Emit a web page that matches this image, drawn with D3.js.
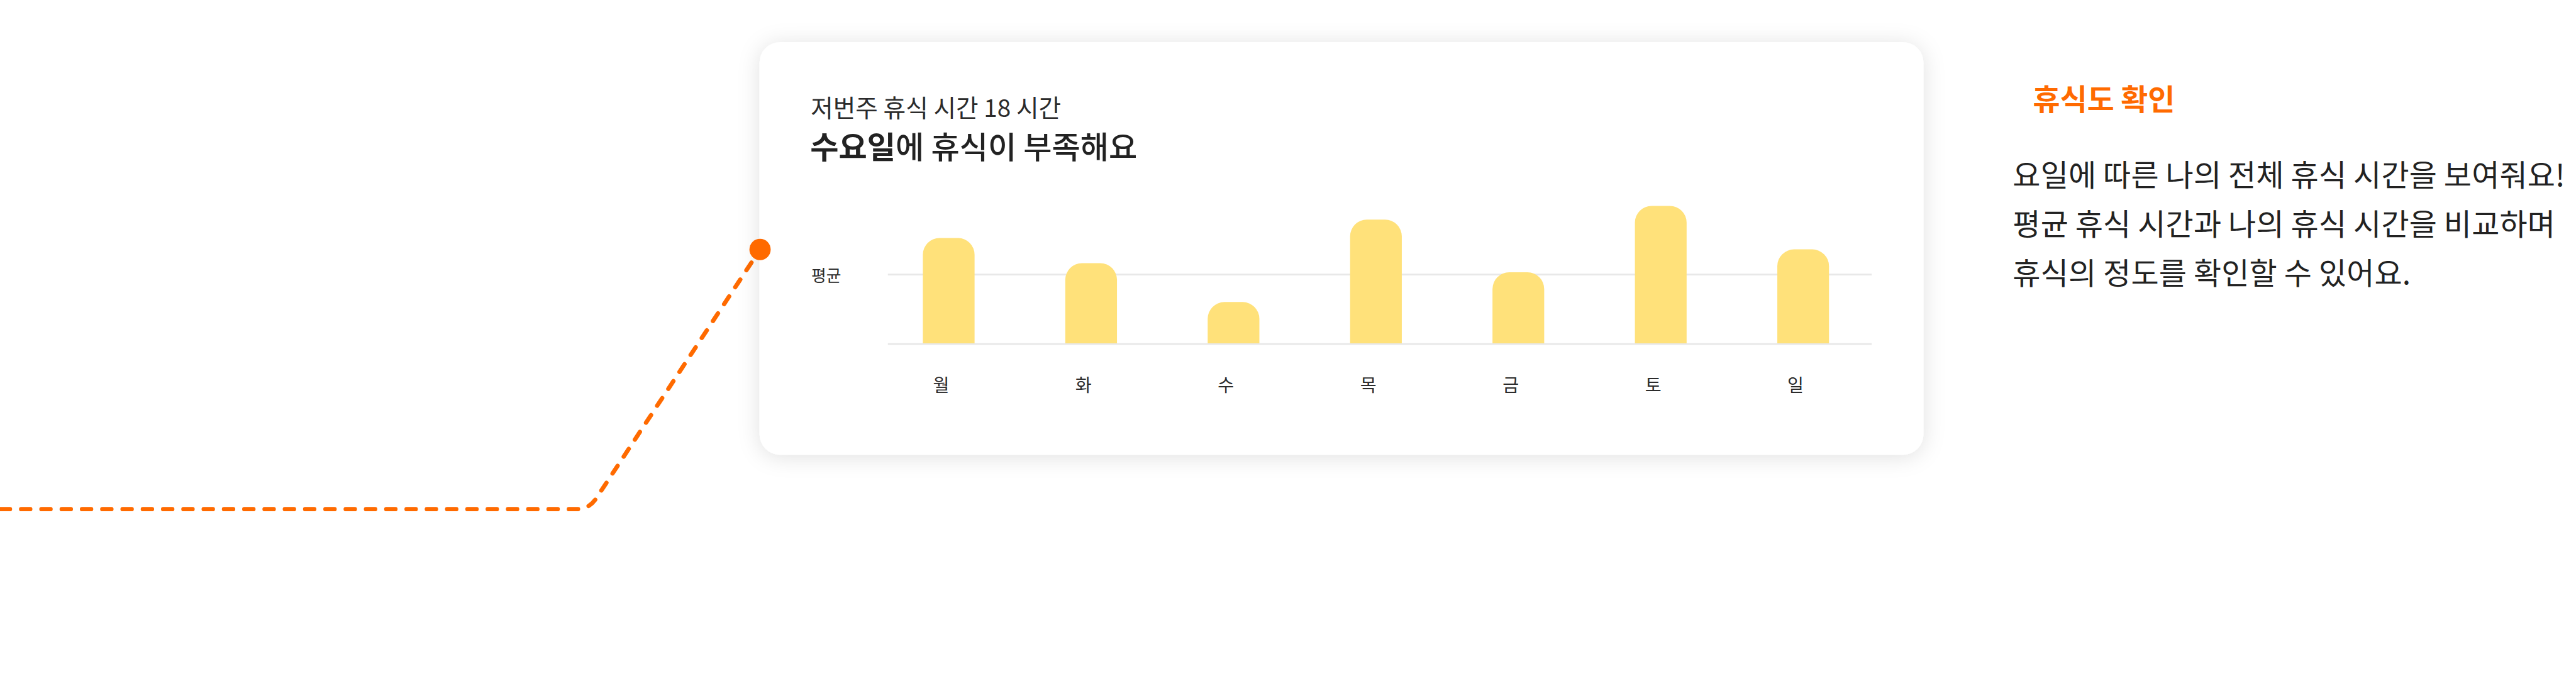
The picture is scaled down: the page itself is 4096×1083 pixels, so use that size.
<!DOCTYPE html>
<html><head><meta charset="utf-8">
<script src="https://cdn.jsdelivr.net/npm/d3@7"></script>
<style>html,body{margin:0;padding:0;background:#fff;overflow:hidden}</style>
</head><body>
<svg id="c" width="4096" height="1083" viewBox="0 0 5078 1343"></svg>
<script>
// ---- data ----
const days = ["월", "화", "수", "목", "금", "토", "일"];
const restHours = [4.6, 3.5, 1.8, 5.4, 3.1, 6.0, 4.1];
const averageHours = 3;
const yDomain = [0, 6];
const avgLabel = "평균";
const subtitleText = "저번주 휴식 시간 18 시간";
const titleBold = "수요일";
const titleRest = "에 휴식이 부족해요";
const sideTitle = "휴식도 확인";
const sideLines = [
  "요일에 따른 나의 전체 휴식 시간을 보여줘요!",
  "평균 휴식 시간과 나의 휴식 시간을 비교하며",
  "휴식의 정도를 확인할 수 있어요."
];

// ---- layout (reference units) ----
const FONT = "'Noto Sans CJK KR', 'Noto Sans', sans-serif";
const ORANGE = "#ff6a00";
const svg = d3.select("#c");

const defs = svg.append("defs");
const f = defs.append("filter").attr("id", "sh")
  .attr("filterUnits", "userSpaceOnUse")
  .attr("x", 1300).attr("y", -120).attr("width", 2700).attr("height", 1250);
f.append("feDropShadow").attr("dx", 0).attr("dy", 4)
  .attr("stdDeviation", 22).attr("flood-color", "#000").attr("flood-opacity", 0.12);

// connector dashed line
svg.append("path")
  .attr("d", "M1,1004 H1136 Q1161,1004 1174.7,983.1 L1498,492")
  .attr("fill", "none").attr("stroke", ORANGE).attr("stroke-width", 8.5)
  .attr("stroke-linecap", "round").attr("stroke-dasharray", "18 22");

// card
svg.append("rect").attr("x", 1497).attr("y", 83).attr("width", 2295).attr("height", 814)
  .attr("rx", 41).attr("fill", "#fff").attr("filter", "url(#sh)");

// dot
svg.append("circle").attr("cx", 1498).attr("cy", 492).attr("r", 21).attr("fill", ORANGE);

// titles inside card
svg.append("text").attr("x", 1598).attr("y", 210).attr("dominant-baseline", "central")
  .attr("font-family", FONT).attr("font-size", 48).attr("fill", "#2b2b2b")
  .text(subtitleText);
const tt = svg.append("text").attr("x", 1597).attr("y", 285).attr("dominant-baseline", "central")
  .attr("font-family", FONT).attr("font-size", 61).attr("fill", "#222");
tt.append("tspan").attr("font-weight", 700).text(titleBold);
tt.append("tspan").attr("font-weight", 500).text(titleRest);

// scales
const x = d3.scaleBand().domain(days).range([1729.6, 3695.2])
  .paddingInner(0.637).paddingOuter(0.3185);
const y = d3.scaleLinear().domain(yDomain).range([677, 406]);

// gridlines
const gx0 = 1750, gx1 = 3690;
svg.append("line").attr("x1", gx0).attr("x2", gx1)
  .attr("y1", y(averageHours)).attr("y2", y(averageHours))
  .attr("stroke", "#e8e8e8").attr("stroke-width", 3.5);
svg.append("line").attr("x1", gx0).attr("x2", gx1)
  .attr("y1", y(0) + 1.5).attr("y2", y(0) + 1.5)
  .attr("stroke", "#e8e8e8").attr("stroke-width", 3.5);

svg.append("text").attr("x", 1599).attr("y", y(averageHours)).attr("dominant-baseline", "central")
  .attr("font-family", FONT).attr("font-size", 32).attr("fill", "#2b2b2b").text(avgLabel);

// bars with rounded tops
const R = 33;
function barPath(d, i) {
  const bx = x(days[i]), bw = x.bandwidth(), by = y(d), b0 = y(0);
  const r = Math.min(R, (b0 - by));
  return `M${bx},${b0} V${by + r} A${r},${r} 0 0 1 ${bx + r},${by} H${bx + bw - r} A${r},${r} 0 0 1 ${bx + bw},${by + r} V${b0} Z`;
}
svg.append("g").selectAll("path").data(restHours).join("path")
  .attr("d", barPath).attr("fill", "#ffe17a");

// x axis labels
const xAxis = d3.axisBottom(x).tickSize(0).tickPadding(0);
const ax = svg.append("g").attr("transform", `translate(-15, 757)`).call(xAxis);
ax.select(".domain").remove();
ax.selectAll("text").attr("y", 0).attr("dy", null).attr("dominant-baseline", "central")
  .attr("font-family", FONT).attr("font-size", 35).attr("fill", "#2b2b2b");

// side description
svg.append("text").attr("x", 4008).attr("y", 192).attr("dominant-baseline", "central")
  .attr("font-family", FONT).attr("font-size", 58).attr("font-weight", 700)
  .attr("fill", ORANGE).text(sideTitle);
svg.append("g").selectAll("text").data(sideLines).join("text")
  .attr("x", 3968).attr("y", (d, i) => 341 + i * 97).attr("dominant-baseline", "central")
  .attr("font-family", FONT).attr("font-size", 59.5).attr("letter-spacing", 0.2).attr("fill", "#222")
  .text(d => d);
</script>
</body></html>
